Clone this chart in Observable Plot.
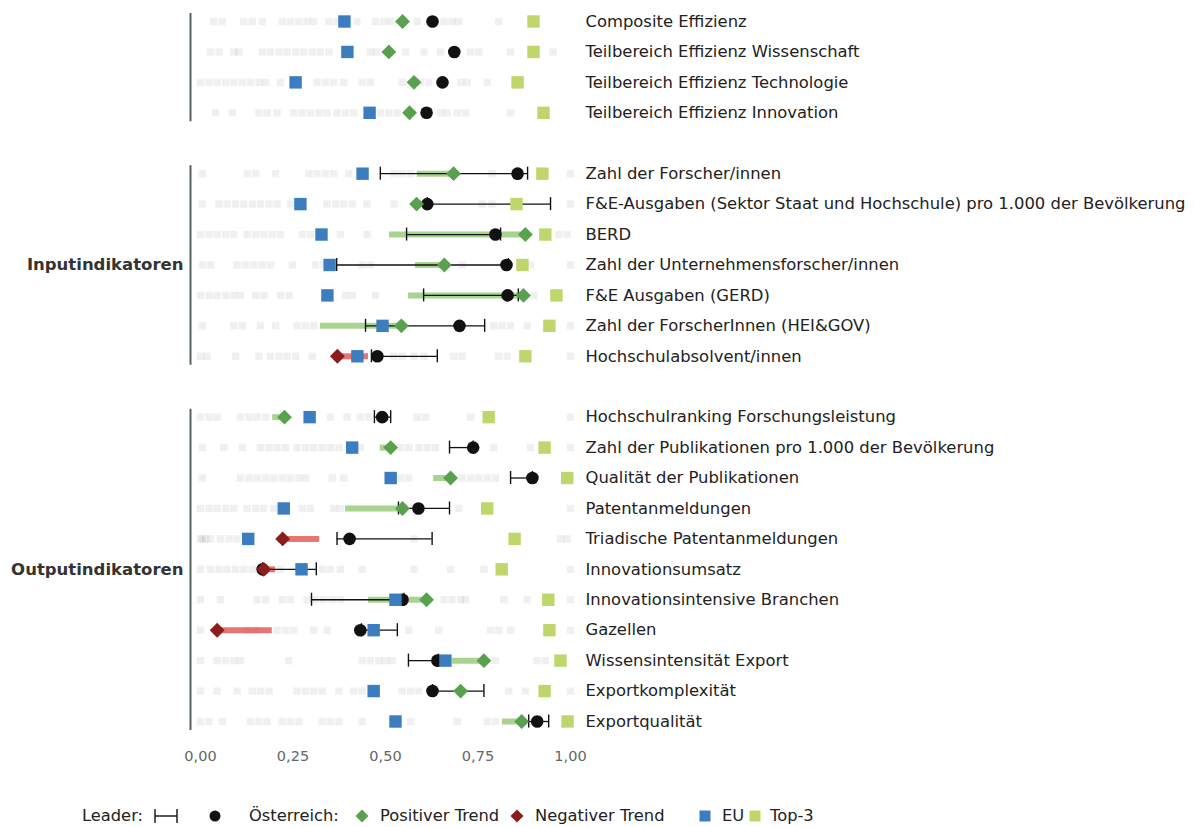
<!DOCTYPE html>
<html><head><meta charset="utf-8">
<script src="https://cdn.jsdelivr.net/npm/d3@7"></script>
<script src="https://cdn.jsdelivr.net/npm/@observablehq/plot@0.6"></script>
<style>
body{margin:0;background:#fff;font-family:"DejaVu Sans",sans-serif;position:relative;width:1194px;height:827px;overflow:hidden;}
#chart{height:780px;}
#legend{position:absolute;left:0;top:805px;height:22px;width:1194px;font-size:16.3px;color:#222;white-space:nowrap;}
#legend span{position:absolute;top:0;line-height:22px;}
#legend svg{display:block;margin-top:2px}
</style></head><body>
<div id="chart"></div>
<div id="legend"></div>
<script>
const effRows = ["Composite Effizienz","Teilbereich Effizienz Wissenschaft","Teilbereich Effizienz Technologie","Teilbereich Effizienz Innovation"];
const inputRows = ["Zahl der Forscher/innen","F&E-Ausgaben (Sektor Staat und Hochschule) pro 1.000 der Bevölkerung","BERD","Zahl der Unternehmensforscher/innen","F&E Ausgaben (GERD)","Zahl der ForscherInnen (HEI&GOV)","Hochschulabsolvent/innen"];
const outputRows = ["Hochschulranking Forschungsleistung","Zahl der Publikationen pro 1.000 der Bevölkerung","Qualität der Publikationen","Patentanmeldungen","Triadische Patentanmeldungen","Innovationsumsatz","Innovationsintensive Branchen","Gazellen","Wissensintensität Export","Exportkomplexität","Exportqualität"];
const categories = [...effRows, ...inputRows, ...outputRows];
const groupLabels = [null, "Inputindikatoren", "Outputindikatoren"];
const groupMid = [null, "Zahl der Unternehmensforscher/innen", "Innovationsumsatz"];

const austria     = [0.546,0.509,0.577,0.565, 0.684,0.584,0.878,0.659,0.873,0.543,0.370, 0.227,0.514,0.676,0.546,0.222,0.171,0.611,0.045,0.766,0.703,0.868];
const austriaPrev = [null,null,null,null, 0.586,null,0.511,0.581,0.562,0.324,0.454, 0.195,0.486,0.630,0.392,0.322,0.203,0.454,0.194,0.681,null,0.816];
const trend       = ["+","+","+","+", "+","+","+","+","+","+","-", "+","+","+","+","-","-","+","-","+","+","+"];
const leader      = [0.627,0.686,0.654,0.611, 0.857,0.613,0.797,0.827,0.830,0.700,0.478, 0.491,0.737,0.897,0.589,0.403,0.168,0.546,0.432,0.640,0.627,0.910];
const leaderLo    = [null,null,null,null, 0.486,0.613,0.557,0.368,0.603,0.446,0.462, 0.470,0.673,0.838,0.535,0.369,0.168,0.300,0.435,0.562,0.627,0.887];
const leaderHi    = [null,null,null,null, 0.884,0.946,0.811,0.832,0.859,0.768,0.640, 0.514,0.737,0.897,0.673,0.626,0.313,0.550,0.532,0.643,0.766,0.941];
const eu          = [0.389,0.397,0.257,0.457, 0.438,0.270,0.327,0.349,0.343,0.492,0.424, 0.295,0.410,0.514,0.225,0.129,0.273,0.527,0.468,0.662,0.468,0.527];
const top3        = [0.900,0.900,0.857,0.927, 0.924,0.854,0.932,0.870,0.962,0.943,0.878, 0.779,0.930,0.991,0.775,0.849,0.814,0.940,0.943,0.973,0.930,0.992];
const others = [
 [0.036,0.059,0.117,0.140,0.167,0.221,0.243,0.266,0.288,0.306,0.347,0.369,0.423,0.473,0.495,0.514,0.586,0.658,0.680,0.698,0.806],
 [0.027,0.050,0.090,0.104,0.167,0.189,0.212,0.234,0.257,0.279,0.302,0.324,0.347,0.459,0.477,0.554,0.604,0.649,0.730,0.752,0.838,0.953],
 [0.000,0.023,0.045,0.068,0.090,0.113,0.135,0.158,0.176,0.216,0.315,0.338,0.360,0.387,0.437,0.459,0.545,0.595,0.617,0.703,0.721,0.775],
 [0.041,0.086,0.158,0.180,0.207,0.252,0.275,0.297,0.320,0.342,0.369,0.392,0.414,0.486,0.509,0.532,0.649,0.667,0.694,0.716,0.838],
 [0.005,0.126,0.149,0.203,0.293,0.315,0.338,0.360,0.401,0.523,0.545,0.568,0.788,1.0],
 [0.005,0.050,0.072,0.095,0.117,0.140,0.162,0.185,0.207,0.243,0.342,0.365,0.387,0.410,0.450,0.523,0.761,0.788,1.0],
 [0.000,0.023,0.045,0.068,0.090,0.126,0.149,0.171,0.194,0.216,0.275,0.297,0.378,0.450,0.968,0.991],
 [0.005,0.027,0.099,0.122,0.144,0.167,0.189,0.248,0.311,0.333,0.437,0.459,0.707,0.892,1.0],
 [0.000,0.023,0.045,0.068,0.090,0.108,0.149,0.171,0.216,0.239,0.392,0.410,0.473,0.901],
 [0.005,0.090,0.113,0.162,0.203,0.261,0.284,0.306,0.793,0.815,0.838,0.883,1.0],
 [0.000,0.018,0.095,0.158,0.189,0.212,0.234,0.257,0.302,0.523,0.545,0.577,0.604,0.685,0.707,0.806,0.829,1.0],
 [0.000,0.023,0.045,0.108,0.131,0.153,0.176,0.351,0.396,0.432,0.455,0.586,0.608,0.730,1.0],
 [0.005,0.063,0.113,0.162,0.185,0.207,0.230,0.261,0.284,0.306,0.329,0.351,0.374,0.432,0.541,0.563,0.590,0.613,0.635,0.793,0.892,1.0],
 [0.005,0.108,0.131,0.153,0.176,0.198,0.221,0.243,0.266,0.284,0.356,0.387,0.541,0.563,0.707,0.730,0.752,0.775,0.797,1.0],
 [0.000,0.023,0.045,0.068,0.090,0.126,0.149,0.171,0.198,0.275,0.297,0.360,0.378,0.698,1.0],
 [0.000,0.005,0.014,0.027,0.054,0.077,0.099,0.577,0.973,0.991],
 [0.000,0.027,0.050,0.072,0.095,0.117,0.140,0.216,0.329,0.351,0.378,0.437,0.577,0.676,0.766,1.0],
 [0.000,0.054,0.153,0.176,0.221,0.243,0.288,0.311,0.333,0.356,0.378,0.658,0.680,0.703,0.716,0.820,0.883,1.0],
 [0.000,0.126,0.149,0.207,0.230,0.252,0.306,0.342,0.563,0.644,0.784,0.806,0.838,1.0],
 [0.000,0.045,0.068,0.090,0.108,0.239,0.437,0.459,0.482,0.500,0.518,0.797,0.910,0.932],
 [0.000,0.045,0.099,0.140,0.162,0.185,0.261,0.284,0.306,0.329,0.374,0.414,0.437,0.545,0.568,0.590,0.833,0.878,1.0],
 [0.000,0.023,0.059,0.135,0.158,0.180,0.221,0.243,0.266,0.329,0.351,0.374,0.437,0.568,0.694,0.775,0.797,1.0]
];
const xTicks = [0, 0.25, 0.5, 0.75, 1];

const COL = {green:"#5aa14f", red:"#8b1d1d", greenBar:"#8cc46c", redBar:"#e04545", eu:"#3b7dbf", top3:"#bfd66c", leader:"#111", group:"#56625d"};

const rows = categories.map((c,i)=>({cat:c, at:austria[i], prev:austriaPrev[i], trend:trend[i], ld:leader[i], lo:leaderLo[i], hi:leaderHi[i], eu:eu[i], top3:top3[i]}));
const grays = rows.flatMap((r,i)=>others[i].map(v=>({cat:r.cat, v})));
const trendRows = rows.filter(r=>r.prev!=null);
const leaderRows = rows.filter(r=>r.lo!=null);
const groupsData = [
  {first:effRows[0], last:effRows[effRows.length-1], label:groupLabels[0], mid:groupMid[0]},
  {first:inputRows[0], last:inputRows[inputRows.length-1], label:groupLabels[1], mid:groupMid[1]},
  {first:outputRows[0], last:outputRows[outputRows.length-1], label:groupLabels[2], mid:groupMid[2]}
];
const domain = [...effRows, " ", ...inputRows, "  ", ...outputRows];
const fmt = d3.format(".2f");

const chart = Plot.plot({
  width: 1194, height: 780,
  marginLeft: 200, marginRight: 624, marginTop: 10, marginBottom: 43,
  style: {fontFamily: "DejaVu Sans, sans-serif", background: "#fff"},
  x: {domain:[0,1], ticks: xTicks, tickFormat: d=>fmt(d).replace(".", ","), tickSize: 0, tickPadding: 13, label: null, axis: "bottom"},
  y: {type:"point", domain, range:[21,721], padding:0, round:false, axis:null},
  marks: [
    Plot.dot(grays, {x:"v", y:"cat", symbol:"square", r:4.2, fill:"#000", fillOpacity:0.058, stroke:null}),
    Plot.ruleY(trendRows, {y:"cat", x1:"prev", x2:"at", stroke:d=>d.trend==="+"?COL.greenBar:COL.redBar, strokeWidth:6, strokeOpacity:0.75}),
    Plot.ruleY(leaderRows, {y:"cat", x1:"lo", x2:"hi", stroke:COL.leader, strokeWidth:1.3}),
    Plot.ruleX(leaderRows, {x:"lo", y1:"cat", y2:"cat", insetTop:-6.5, insetBottom:-6.5, stroke:COL.leader, strokeWidth:1.4}),
    Plot.ruleX(leaderRows, {x:"hi", y1:"cat", y2:"cat", insetTop:-6.5, insetBottom:-6.5, stroke:COL.leader, strokeWidth:1.4}),
    Plot.dot(rows, {x:"ld", y:"cat", r:6.3, fill:COL.leader, stroke:null}),
    Plot.dot(rows, {x:"at", y:"cat", symbol:"diamond2", r:6.7, fill:d=>d.trend==="+"?COL.green:COL.red, stroke:null}),
    Plot.dot(rows, {x:"eu", y:"cat", symbol:"square", r:7.0, fill:COL.eu, stroke:null}),
    Plot.dot(rows, {x:"top3", y:"cat", symbol:"square", r:7.0, fill:COL.top3, stroke:null}),
    Plot.text(categories, {y:d=>d, text:d=>d, frameAnchor:"right", dx:15, textAnchor:"start", fontSize:16.4, fill:"#222"}),
    Plot.ruleX(groupsData, {x:0, dx:-10, y1:"first", y2:"last", insetTop:-8, insetBottom:-9, stroke:COL.group, strokeWidth:2}),
    Plot.text(groupsData.filter(g=>g.label), {y:"mid", text:"label", frameAnchor:"left", dx:-17, textAnchor:"end", fontSize:16.5, fontWeight:"bold", fill:"#333"})
  ]
});
chart.querySelectorAll("g[aria-label='x-axis tick label']").forEach(e=>{e.setAttribute("fill","#666"); e.setAttribute("font-size","14.5");});
document.getElementById("chart").appendChild(chart);

const sym = (inner,w=18)=>`<svg width="${w}" height="18" viewBox="0 0 ${w} 18">${inner}</svg>`;
const legendItems = [
  [82, "Leader:"],
  [154, sym('<line x1="1" y1="9" x2="23" y2="9" stroke="#111" stroke-width="1.4"/><line x1="1" y1="2" x2="1" y2="16" stroke="#111" stroke-width="1.4"/><line x1="23" y1="2" x2="23" y2="16" stroke="#111" stroke-width="1.4"/>',24)],
  [206, sym('<circle cx="9" cy="9" r="5.5" fill="#111"/>')],
  [249, "Österreich:"],
  [353, sym('<path d="M9 2.5 L15.5 9 L9 15.5 L2.5 9 Z" fill="'+COL.green+'"/>')],
  [380, "Positiver Trend"],
  [508, sym('<path d="M9 2.5 L15.5 9 L9 15.5 L2.5 9 Z" fill="'+COL.red+'"/>')],
  [535, "Negativer Trend"],
  [696, sym('<rect x="3.5" y="3.5" width="11" height="11" fill="'+COL.eu+'"/>')],
  [722, "EU"],
  [746, sym('<rect x="3.5" y="3.5" width="11" height="11" fill="'+COL.top3+'"/>')],
  [770, "Top-3"]
];
document.getElementById("legend").innerHTML = legendItems.map(([l,h])=>`<span style="left:${l}px">${h}</span>`).join("");
</script>
</body></html>
